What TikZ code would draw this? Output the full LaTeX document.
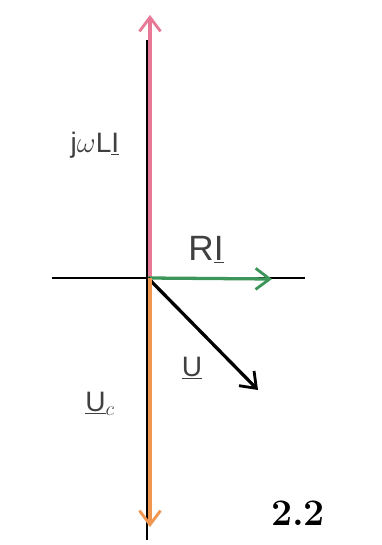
\documentclass[tikz,border=0pt]{standalone}
\usepackage{fontspec}
\setmainfont{Liberation Sans}
\newfontfamily\numfont{Latin Modern Roman}
\usetikzlibrary{arrows.meta}
\definecolor{phasorpink}{RGB}{232,120,150}
\definecolor{phasorgreen}{RGB}{60,150,90}
\definecolor{phasororange}{RGB}{240,150,80}
\begin{document}
\begin{tikzpicture}[x=0.03cm, y=-0.03cm]

    \tikzstyle{phasor}=[line width=2.8pt, -{Straight Barb[length=12pt, width=18pt, line width=2.4pt]}];
    \tikzstyle{axis}=[line width=2pt, black];
    \tikzstyle{lbl}=[inner sep=0pt, text=black!75];

    \useasboundingbox (0,0) rectangle (381,545);

    % axes
    \coordinate (O) at (148, 278);
    \coordinate (top) at (147, 40);
    \coordinate (bot) at (147, 540);
    \coordinate (left) at (52, 278);
    \coordinate (right) at (305, 278);
    \draw[axis] (top) -- (bot);
    \draw[axis] (left) -- (right);

    % phasors
    \coordinate (pL) at (150, 278);
    \coordinate (tipL) at (150, 15);
    \coordinate (tipR) at (272, 279);
    \coordinate (tipU) at (258, 390);
    \coordinate (tipC) at (150, 527);

    \draw[phasor, phasorpink] (pL) -- (tipL);
    \draw[phasor, phasorgreen] (O) -- (tipR);
    \draw[phasor, black] (O) -- (tipU);
    \draw[phasor, phasororange] (pL) -- (tipC);

    % labels
    \node[lbl, font=\fontsize{24}{24}\selectfont] (jwLI) at (95, 145) {j$\omega$L\underline{I}};
    \node[lbl, font=\fontsize{30}{30}\selectfont] (RI) at (206, 250) {R\underline{I}};
    \node[lbl, font=\fontsize{24}{24}\selectfont] (U) at (192, 368) {\underline{U}};
    \node[lbl, font=\fontsize{24}{24}\selectfont] (Uc) at (100, 404) {\underline{U}$_c$};
    \node[inner sep=0pt, font=\numfont\bfseries\fontsize{32}{32}\selectfont] (fig) at (298, 513) {2.2};

\end{tikzpicture}
\end{document}
